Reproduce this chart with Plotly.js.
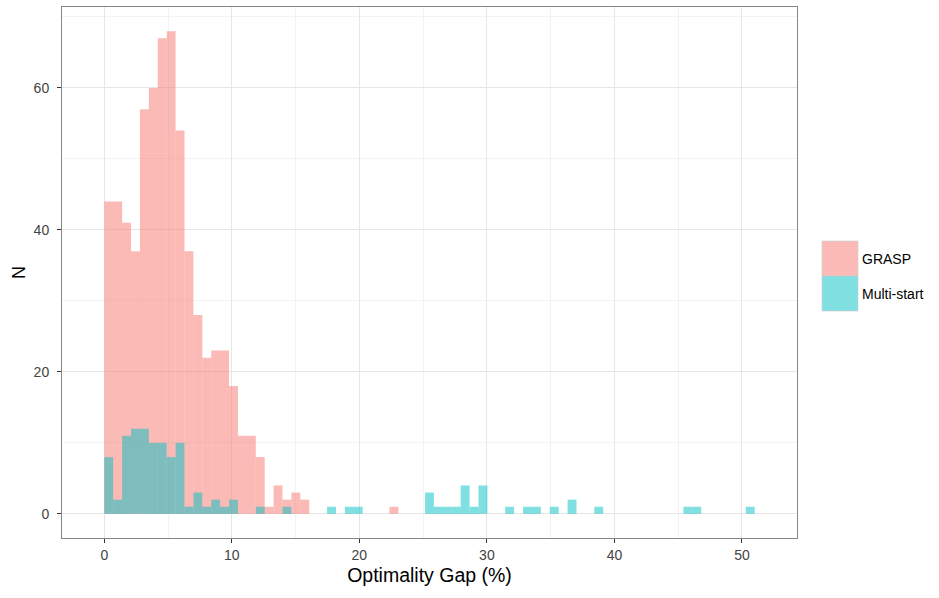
<!DOCTYPE html>
<html>
<head>
<meta charset="utf-8">
<script src="https://cdn.plot.ly/plotly-3.0.1.min.js"></script>
<style>
  html, body { margin: 0; padding: 0; background: #ffffff; }
  #chart { width: 939px; height: 598px; }
</style>
</head>
<body>
<div id="chart"></div>
<script>
// Histogram bins: equal-width bins starting at 0
const binStart = 0;
const binWidth = 0.6986;

// Counts per bin, bin 0 .. bin 72
const graspCounts = [
  44, 44, 41, 37, 57, 60, 67, 68, 54, 37,
  28, 22, 23, 23, 18, 11, 11, 8, 1, 4,
  2, 3, 2, 0, 0, 0, 0, 0, 0, 0,
  0, 0, 1, 0, 0, 0, 0, 0, 0, 0,
  0, 0, 0, 0, 0, 0, 0, 0, 0, 0,
  0, 0, 0, 0, 0, 0, 0, 0, 0, 0,
  0, 0, 0, 0, 0, 0, 0, 0, 0, 0,
  0, 0, 0
];
const multiCounts = [
  8, 2, 11, 12, 12, 10, 10, 8, 10, 1,
  3, 1, 2, 1, 2, 0, 0, 1, 0, 0,
  1, 0, 0, 0, 0, 1, 0, 1, 1, 0,
  0, 0, 0, 0, 0, 0, 3, 1, 1, 1,
  4, 1, 4, 0, 0, 1, 0, 1, 1, 0,
  1, 0, 2, 0, 0, 1, 0, 0, 0, 0,
  0, 0, 0, 0, 0, 1, 1, 0, 0, 0,
  0, 0, 1
];

const seriesNames = ["GRASP", "Multi-start"];
const xTicks = [0, 10, 20, 30, 40, 50];
const yTicks = [0, 20, 40, 60];

const centers = graspCounts.map((_, i) => binStart + (i + 0.5) * binWidth);
const nBins = graspCounts.length;
const dataMin = binStart - binWidth;              // padded empty bin
const dataMax = binStart + (nBins + 1) * binWidth; // padded empty bin
const xpad = 0.05 * (dataMax - dataMin);
const ymax = Math.max(...graspCounts, ...multiCounts);
const ypad = 0.05 * ymax;

const pinkFill = "rgba(248,118,109,0.5)";
const cyanFill = "rgba(0,191,196,0.5)";
const font = "Liberation Sans, Arial, sans-serif";

const traces = [
  {
    type: "bar", name: seriesNames[0], x: centers, y: graspCounts,
    width: binWidth, marker: { color: pinkFill, line: { width: 0 } },
    showlegend: false, hoverinfo: "x+y"
  },
  {
    type: "bar", name: seriesNames[1], x: centers, y: multiCounts,
    width: binWidth, marker: { color: cyanFill, line: { width: 0 } },
    showlegend: false, hoverinfo: "x+y"
  }
];

// Plot panel: left 62, right 797, top 7, bottom 538 (pixels)
const W = 939, H = 598, L = 62, R = 797, T = 7, B = 538;
const pw = R - L, ph = B - T;
const px = v => (v - L) / pw;
const py = v => (B - v) / ph;

const layout = {
  width: W, height: H,
  margin: { l: L, r: W - R, t: T, b: H - B, pad: 0 },
  paper_bgcolor: "#ffffff",
  plot_bgcolor: "#ffffff",
  barmode: "overlay",
  font: { family: font, size: 14, color: "#444444" },
  xaxis: {
    range: [dataMin - xpad, dataMax + xpad],
    tickvals: xTicks,
    ticktext: xTicks.map(String),
    ticks: "outside", ticklen: 4, tickwidth: 1, tickcolor: "#333333",
    tickfont: { family: font, size: 14, color: "#444444" },
    showgrid: true, gridcolor: "#e6e6e6", gridwidth: 1,
    minor: { dtick: 5, tick0: 0, showgrid: true, gridcolor: "#f3f3f3", gridwidth: 1, ticks: "" },
    zeroline: false,
    showline: true, mirror: true, linecolor: "#858585", linewidth: 1,
    title: { text: "Optimality Gap (%)", font: { family: font, size: 19.5, color: "#000000" }, standoff: 6 }
  },
  yaxis: {
    range: [-ypad, ymax + ypad],
    tickvals: yTicks,
    ticktext: yTicks.map(String),
    ticks: "outside", ticklen: 4, tickwidth: 1, tickcolor: "#333333",
    ticklabelstandoff: 5,
    tickfont: { family: font, size: 14, color: "#444444" },
    showgrid: true, gridcolor: "#e6e6e6", gridwidth: 1,
    minor: { dtick: 10, tick0: 0, showgrid: true, gridcolor: "#f3f3f3", gridwidth: 1, ticks: "" },
    zeroline: false,
    showline: true, mirror: true, linecolor: "#858585", linewidth: 1,
    title: { text: "N", font: { family: font, size: 18, color: "#000000" }, standoff: 3 }
  },
  shapes: [
    { type: "rect", xref: "paper", yref: "paper",
      x0: px(822), x1: px(858), y0: py(276), y1: py(241),
      fillcolor: pinkFill, line: { width: 1, color: "rgba(210,210,210,0.7)" } },
    { type: "rect", xref: "paper", yref: "paper",
      x0: px(822), x1: px(858), y0: py(311), y1: py(276),
      fillcolor: cyanFill, line: { width: 1, color: "rgba(210,210,210,0.7)" } }
  ],
  annotations: [
    { xref: "paper", yref: "paper", x: px(860), y: py(258.5), xanchor: "left", yanchor: "middle",
      text: seriesNames[0], showarrow: false, font: { family: font, size: 14, color: "#000000" } },
    { xref: "paper", yref: "paper", x: px(860), y: py(293.5), xanchor: "left", yanchor: "middle",
      text: seriesNames[1], showarrow: false, font: { family: font, size: 14, color: "#000000" } }
  ]
};

Plotly.newPlot("chart", traces, layout, { displayModeBar: false, staticPlot: true });
</script>
</body>
</html>
